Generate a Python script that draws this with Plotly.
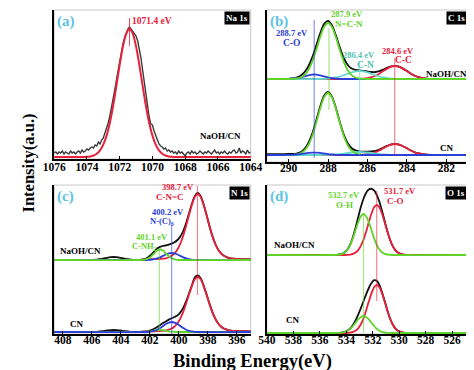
import numpy as np
import plotly.graph_objects as go

SERIF = "Liberation Serif, Times New Roman, serif"
W, H = 474, 370

# ---------------- colours ----------------
C_ENV = "#111111"
C_RAW = "#3a3a3a"
C_RED = "#e8203a"
C_GRN = "#5fd42b"
C_BLU = "#2a3fd8"
C_CYN = "#62d9cc"
C_LET = "#5bc4e6"
C_FRAME = "#c8c8c8"

# ---------------- (a) Na 1s ----------------
A_RANGE = [1076, 1064]
A_RAW = [6, 7, 5, 7, 6, 8, 5, 7, 6, 5,
         8, 6, 7, 5, 7, 8, 6, 9, 7, 8,
         10, 9, 11, 12, 11, 14, 13, 17, 15, 19,
         21, 26, 29, 36, 43, 51, 60, 69, 79, 89,
         99, 107, 115, 121, 126, 130, 132, 130, 128, 126,
         123, 118, 111, 101, 89, 76, 63, 51, 42, 35,
         34, 28, 23, 18, 15, 13, 12, 10, 11, 8,
         9, 7, 8, 6, 7, 5, 8, 6, 7, 5,
         3, 6, 7, 5, 8, 6, 7, 5, 6, 8,
         6, 5, 7, 6, 8, 6, 5, 7, 9, 6,
         7, 5, 7, 6, 8, 6, 5, 7, 6, 8,
         9, 6, 7, 11, 6, 8, 7, 5, 9, 6,
         7]
A_RAW_E = np.linspace(1076.0, 1064.0, len(A_RAW))
A_FIT = [(1076.2, 2), (1074.2, 2), (1074.0, 2.2), (1073.8, 2.6), (1073.6, 3.5), (1073.4, 5.3),
         (1073.2, 8.7), (1073.0, 14.4), (1072.8, 23.4), (1072.6, 36.3), (1072.4, 53.3),
         (1072.2, 73.3), (1072.0, 94.2), (1071.8, 112.6), (1071.6, 125.4), (1071.4, 130),
         (1071.2, 125.4), (1071.0, 112.6), (1070.8, 94.2), (1070.6, 73.3), (1070.4, 53.3),
         (1070.2, 36.3), (1070.0, 23.4), (1069.8, 14.4), (1069.6, 8.7), (1069.4, 5.3),
         (1069.2, 3.5), (1069.0, 2.6), (1068.8, 2.2), (1068.6, 2), (1063.8, 2)]
A_PEAK = 1071.4

# ---------------- (b) C 1s ----------------
B_RANGE = [291.1, 280.9]
B_OFF_TOP, B_OFF_BOT = 83, 7
B1_ENV = [(291.2, 0), (290.2, 0), (290.0, 0.2), (289.8, 0.5), (289.6, 1.4), (289.4, 3.2), (289.2, 6.6),
          (289.0, 12.5), (288.8, 21.6), (288.6, 33.2), (288.4, 45.4), (288.2, 54.9), (288.0, 58.1),
          (287.8, 53.7), (287.6, 43.6), (287.4, 31.5), (287.2, 21.0), (287.0, 14.0), (286.8, 10.5),
          (286.6, 9.1), (286.4, 8.65), (286.2, 8.1), (286.0, 7.5), (285.8, 7.0), (285.6, 7.0),
          (285.4, 7.8), (285.2, 9.4), (285.0, 11.2), (284.8, 12.7), (284.6, 13.2), (284.4, 12.3),
          (284.2, 10.4), (284.0, 7.9), (283.8, 5.3), (283.6, 3.2), (283.4, 1.8), (283.2, 0.9),
          (283.0, 0.4), (282.8, 0.15), (282.4, 0), (280.8, 0)]
B1_GRN = [(291.2, 0), (290.0, 0), (289.8, 0.1), (289.6, 0.5), (289.4, 1.5), (289.2, 3.9), (289.0, 8.8),
          (288.8, 17.2), (288.6, 28.8), (288.4, 41.7), (288.2, 52.0), (288.0, 56), (287.8, 52.0),
          (287.6, 41.7), (287.4, 28.8), (287.2, 17.2), (287.0, 8.8), (286.8, 3.9), (286.6, 1.5),
          (286.4, 0.5), (286.2, 0.1), (286.0, 0), (280.8, 0)]
B1_BLU = [(291.2, 0), (290.2, 0), (290.0, 0.2), (289.8, 0.4), (289.6, 0.9), (289.4, 1.7), (289.2, 2.7),
          (289.0, 3.7), (288.8, 4.4), (288.6, 4.4), (288.4, 3.7), (288.2, 2.7), (288.0, 1.7),
          (287.8, 0.9), (287.6, 0.4), (287.4, 0.2), (287.2, 0), (280.8, 0)]
B1_CYN = [(291.2, 0), (288.4, 0), (288.2, 0.2), (288.0, 0.4), (287.8, 0.8), (287.6, 1.5), (287.4, 2.5),
          (287.2, 3.8), (287.0, 5.2), (286.8, 6.6), (286.6, 7.6), (286.4, 8), (286.2, 7.6), (286.0, 6.6),
          (285.8, 5.2), (285.6, 3.8), (285.4, 2.5), (285.2, 1.5), (285.0, 0.8), (284.8, 0.4),
          (284.6, 0.2), (284.4, 0), (280.8, 0)]
B1_RED = [(291.2, 0), (286.6, 0), (286.4, 0.15), (286.2, 0.4), (286.0, 0.9), (285.8, 1.8), (285.6, 3.2),
          (285.4, 5.3), (285.2, 7.9), (285.0, 10.4), (284.8, 12.3), (284.6, 13), (284.4, 12.3),
          (284.2, 10.4), (284.0, 7.9), (283.8, 5.3), (283.6, 3.2), (283.4, 1.8), (283.2, 0.9),
          (283.0, 0.4), (282.8, 0.15), (282.6, 0), (280.8, 0)]
B2_ENV = [(291.2, 0.8), (290.2, 0.9), (290.0, 1.0), (289.8, 1.1), (289.6, 1.4), (289.4, 2.6), (289.2, 5.8),
          (289.0, 11.8), (288.8, 21.4), (288.6, 34.3), (288.4, 48.3), (288.2, 59.2), (288.0, 63.1),
          (287.8, 58.4), (287.6, 47.0), (287.4, 32.9), (287.2, 20.4), (287.0, 11.7), (286.8, 6.8),
          (286.6, 4.6), (286.4, 3.7), (286.2, 3.3), (286.0, 3.3), (285.8, 3.5), (285.6, 4.1),
          (285.4, 5.4), (285.2, 7.3), (285.0, 9.1), (284.8, 10.6), (284.6, 11.1), (284.4, 10.4),
          (284.2, 8.8), (284.0, 6.7), (283.8, 4.5), (283.6, 2.7), (283.4, 1.5), (283.2, 0.8),
          (283.0, 0.3), (282.8, 0.1), (282.4, 0), (280.8, 0)]
B2_GRN = [(291.2, 0), (290.0, 0), (289.8, 0.1), (289.6, 0.6), (289.4, 1.7), (289.2, 4.3), (289.0, 9.7),
          (288.8, 19.0), (288.6, 31.9), (288.4, 46.2), (288.2, 57.6), (288.0, 62), (287.8, 57.6),
          (287.6, 46.2), (287.4, 31.9), (287.2, 19.0), (287.0, 9.7), (286.8, 4.3), (286.6, 1.7),
          (286.4, 0.6), (286.2, 0.1), (286.0, 0), (280.8, 0)]
B2_BLU = [(291.2, 0), (290.2, 0), (290.0, 0.1), (289.8, 0.2), (289.6, 0.5), (289.4, 0.9), (289.2, 1.5),
          (289.0, 2.1), (288.8, 2.4), (288.6, 2.4), (288.4, 2.1), (288.2, 1.5), (288.0, 0.9),
          (287.8, 0.5), (287.6, 0.2), (287.4, 0.1), (287.2, 0), (280.8, 0)]
B2_CYN = [(291.2, 0), (288.4, 0), (288.2, 0.1), (288.0, 0.15), (287.8, 0.3), (287.6, 0.6), (287.4, 0.9),
          (287.2, 1.4), (287.0, 2.0), (286.8, 2.5), (286.6, 2.9), (286.4, 3), (286.2, 2.9), (286.0, 2.5),
          (285.8, 2.0), (285.6, 1.4), (285.4, 0.9), (285.2, 0.6), (285.0, 0.3), (284.8, 0.15),
          (284.6, 0.1), (284.4, 0), (280.8, 0)]
B2_RED = [(291.2, 0), (286.6, 0), (286.4, 0.1), (286.2, 0.3), (286.0, 0.8), (285.8, 1.5), (285.6, 2.7),
          (285.4, 4.5), (285.2, 6.7), (285.0, 8.8), (284.8, 10.4), (284.6, 11), (284.4, 10.4),
          (284.2, 8.8), (284.0, 6.7), (283.8, 4.5), (283.6, 2.7), (283.4, 1.5), (283.2, 0.8),
          (283.0, 0.3), (282.8, 0.1), (282.6, 0), (280.8, 0)]
B_LINES = [(288.7, C_BLU, 4, 142), (287.95, C_GRN, 52, 134), (286.4, C_CYN, 7, 101), (284.62, C_RED, 7, 104)]

# ---------------- (c) N 1s ----------------
C_RANGE = [408.6, 395.05]
C_OFF_TOP, C_OFF_BOT = 74, 2
C1_ENV = [(408.8, 0), (406.5, 0), (405.9, 0.1), (405.7, 0.3), (405.5, 0.8), (405.3, 1.2), (405.1, 1.8),
          (404.9, 2.4), (404.7, 2.8), (404.5, 3.0), (404.3, 2.8), (404.1, 2.4), (403.9, 1.8),
          (403.7, 1.2), (403.5, 0.8), (403.3, 0.3), (403.1, 0.1), (402.9, 0.1), (402.7, 0.2),
          (402.5, 0.5), (402.3, 1.2), (402.1, 3.0), (401.9, 5.6), (401.7, 8.6), (401.5, 11.5),
          (401.3, 13.2), (401.1, 14.0), (400.9, 14.6), (400.7, 15.4), (400.5, 16.3), (400.3, 17.8),
          (400.1, 20.0), (399.9, 23.5), (399.7, 29.0), (399.5, 37.0), (399.3, 46.8), (399.1, 56.3),
          (398.9, 64.0), (398.7, 67), (398.5, 63.8), (398.3, 55.8), (398.1, 45.4), (397.9, 34.3),
          (397.7, 24.4), (397.5, 16.5), (397.3, 10.6), (397.1, 6.7), (396.9, 4.3), (396.7, 2.9),
          (396.5, 1.8), (396.3, 1.4), (396.1, 1.2), (395.9, 1.0), (395.7, 0.9), (394.8, 0.5)]
C1_RED = [(408.8, 0), (402.9, 0), (402.5, 0.3), (402.3, 0.5), (402.1, 0.6), (401.9, 0.8), (401.7, 0.9),
          (401.5, 1.0), (401.3, 1.2), (401.1, 1.4), (400.9, 1.7), (400.7, 2.8), (400.5, 4.2),
          (400.3, 6.6), (400.1, 10.5), (399.9, 16.4), (399.7, 24.3), (399.5, 34.2), (399.3, 45.2),
          (399.1, 55.5), (398.9, 63.2), (398.7, 66), (398.5, 63.2), (398.3, 55.5), (398.1, 45.2),
          (397.9, 34.2), (397.7, 24.3), (397.5, 16.4), (397.3, 10.5), (397.1, 6.6), (396.9, 4.2),
          (396.7, 2.8), (396.5, 1.7), (396.3, 1.4), (396.1, 1.2), (395.9, 1.0), (395.7, 0.9), (394.8, 0.5)]
C1_BLU = [(408.8, 0), (402.3, 0), (402.1, 0.15), (401.9, 0.4), (401.7, 0.8), (401.5, 1.6), (401.3, 2.7),
          (401.1, 4.1), (400.9, 5.5), (400.7, 6.6), (400.5, 7), (400.3, 6.6), (400.1, 5.5), (399.9, 4.1),
          (399.7, 2.7), (399.5, 1.6), (399.3, 0.8), (399.1, 0.4), (398.9, 0.15), (398.7, 0), (394.8, 0)]
C1_GRN = [(408.8, 0), (402.7, 0), (402.5, 0.2), (402.3, 0.6), (402.1, 1.7), (401.9, 3.8), (401.7, 6.7),
          (401.5, 9.4), (401.3, 10.5), (401.1, 9.4), (400.9, 6.7), (400.7, 3.8), (400.5, 1.7),
          (400.3, 0.6), (400.1, 0.2), (399.9, 0), (394.8, 0)]
C2_ENV = [(408.8, 0), (406.5, 0), (405.9, 0.1), (405.7, 0.2), (405.5, 0.5), (405.3, 0.8), (405.1, 1.2),
          (404.9, 1.6), (404.7, 1.9), (404.5, 2.0), (404.3, 1.9), (404.1, 1.6), (403.9, 1.2),
          (403.7, 0.8), (403.5, 0.5), (403.3, 0.2), (403.1, 0.1), (402.7, 0.1), (402.5, 0.3),
          (402.3, 0.5), (402.1, 1.0), (401.9, 2.0), (401.7, 3.2), (401.5, 4.9), (401.3, 6.9),
          (401.1, 8.9), (400.9, 10.6), (400.7, 12.4), (400.5, 13.8), (400.3, 15.0), (400.1, 16.6),
          (399.9, 19.6), (399.7, 24.1), (399.5, 30.8), (399.3, 38.8), (399.1, 46.8), (398.9, 54.6),
          (398.7, 56.5), (398.5, 53.8), (398.3, 46.6), (398.1, 37.9), (397.9, 28.6), (397.7, 20.2),
          (397.5, 13.7), (397.3, 8.7), (397.1, 5.5), (396.9, 3.5), (396.7, 2.3), (396.5, 1.4),
          (396.3, 1.2), (396.1, 1.0), (395.9, 0.8), (395.7, 0.75), (394.8, 0.4)]
C2_RED = [(408.8, 0), (402.9, 0), (402.5, 0.25), (402.3, 0.4), (402.1, 0.5), (401.9, 0.7), (401.7, 0.75),
          (401.5, 0.8), (401.3, 1.0), (401.1, 1.2), (400.9, 1.4), (400.7, 2.3), (400.5, 3.5),
          (400.3, 5.5), (400.1, 8.7), (399.9, 13.7), (399.7, 20.2), (399.5, 28.5), (399.3, 37.7),
          (399.1, 46.2), (398.9, 52.7), (398.7, 55), (398.5, 52.7), (398.3, 46.2), (398.1, 37.7),
          (397.9, 28.5), (397.7, 20.2), (397.5, 13.7), (397.3, 8.7), (397.1, 5.5), (396.9, 3.5),
          (396.7, 2.3), (396.5, 1.4), (396.3, 1.2), (396.1, 1.0), (395.9, 0.8), (395.7, 0.75), (394.8, 0.4)]
C2_BLU = [(408.8, 0), (402.3, 0), (402.1, 0.2), (401.9, 0.6), (401.7, 1.1), (401.5, 2.3), (401.3, 3.9),
          (401.1, 5.9), (400.9, 7.9), (400.7, 9.4), (400.5, 10), (400.3, 9.4), (400.1, 7.9), (399.9, 5.9),
          (399.7, 3.9), (399.5, 2.3), (399.3, 1.1), (399.1, 0.6), (398.9, 0.2), (398.7, 0), (394.8, 0)]
C2_GRN = [(408.8, 0), (402.3, 0), (402.1, 0.3), (401.9, 0.7), (401.7, 1.3), (401.5, 1.8), (401.3, 2.0),
          (401.1, 1.8), (400.9, 1.3), (400.7, 0.7), (400.5, 0.3), (400.3, 0.1), (400.1, 0), (394.8, 0)]
C_LINES = [(398.72, C_RED, 39, 148), (400.5, C_BLU, 0, 111), (401.35, C_GRN, 3, 84)]

# ---------------- (d) O 1s ----------------
D_RANGE = [540, 524.8]
D_OFF_TOP, D_OFF_BOT = 79, 1
D1_ENV = [(540.2, 0), (534.9, 0), (534.7, 0.2), (534.5, 0.5), (534.3, 1.2), (534.1, 2.7), (533.9, 5.65),
          (533.7, 10.6), (533.5, 18.0), (533.3, 27.3), (533.1, 37.7), (532.9, 47.9), (532.7, 56.3),
          (532.5, 62.3), (532.3, 65.5), (532.1, 66.2), (531.9, 64.6), (531.7, 60.2), (531.5, 53.2),
          (531.3, 44.0), (531.1, 33.9), (530.9, 24.0), (530.7, 15.5), (530.5, 9.1), (530.3, 4.9),
          (530.1, 2.4), (529.9, 1.1), (529.7, 0.4), (529.5, 0.15), (529.3, 0), (524.6, 0)]
D1_RED = [(540.2, 0), (534.1, 0), (533.9, 0.15), (533.7, 0.4), (533.5, 1.1), (533.3, 2.4), (533.1, 4.9),
          (532.9, 9.1), (532.7, 15.3), (532.5, 23.5), (532.3, 32.7), (532.1, 41.3), (531.9, 47.7),
          (531.7, 50), (531.5, 47.7), (531.3, 41.3), (531.1, 32.7), (530.9, 23.5), (530.7, 15.3),
          (530.5, 9.1), (530.3, 4.9), (530.1, 2.4), (529.9, 1.1), (529.7, 0.4), (529.5, 0.15),
          (529.3, 0), (524.6, 0)]
D1_GRN = [(540.2, 0), (534.9, 0), (534.7, 0.2), (534.5, 0.5), (534.3, 1.2), (534.1, 2.7), (533.9, 5.5),
          (533.7, 10.2), (533.5, 16.9), (533.3, 24.9), (533.1, 32.8), (532.9, 38.8), (532.7, 41),
          (532.5, 38.8), (532.3, 32.8), (532.1, 24.9), (531.9, 16.9), (531.7, 10.2), (531.5, 5.5),
          (531.3, 2.7), (531.1, 1.2), (530.9, 0.5), (530.7, 0.2), (530.5, 0), (524.6, 0)]
D2_ENV = [(540.2, 0), (534.9, 0), (534.7, 0.1), (534.5, 0.2), (534.3, 0.5), (534.1, 1.1), (533.9, 2.45),
          (533.7, 4.6), (533.5, 8.1), (533.3, 12.6), (533.1, 18.3), (532.9, 24.8), (532.7, 31.7),
          (532.5, 38.7), (532.3, 45.0), (532.1, 49.9), (531.9, 52.8), (531.7, 52.2), (531.5, 48.1),
          (531.3, 40.7), (531.1, 31.9), (530.9, 22.8), (530.7, 14.8), (530.5, 8.7), (530.3, 4.7),
          (530.1, 2.3), (529.9, 1.1), (529.7, 0.4), (529.5, 0.15), (529.3, 0), (524.6, 0)]
D2_RED = [(540.2, 0), (534.1, 0), (533.9, 0.15), (533.7, 0.4), (533.5, 1.1), (533.3, 2.3), (533.1, 4.7),
          (532.9, 8.7), (532.7, 14.7), (532.5, 22.6), (532.3, 31.4), (532.1, 39.6), (531.9, 45.8),
          (531.7, 48), (531.5, 45.8), (531.3, 39.6), (531.1, 31.4), (530.9, 22.6), (530.7, 14.7),
          (530.5, 8.7), (530.3, 4.7), (530.1, 2.3), (529.9, 1.1), (529.7, 0.4), (529.5, 0.15),
          (529.3, 0), (524.6, 0)]
D2_GRN = [(540.2, 0), (534.9, 0), (534.7, 0.1), (534.5, 0.2), (534.3, 0.5), (534.1, 1.1), (533.9, 2.3),
          (533.7, 4.2), (533.5, 7.0), (533.3, 10.3), (533.1, 13.6), (532.9, 16.1), (532.7, 17),
          (532.5, 16.1), (532.3, 13.6), (532.1, 10.3), (531.9, 7.0), (531.7, 4.2), (531.5, 2.3),
          (531.3, 1.1), (531.1, 0.5), (530.9, 0.2), (530.7, 0.1), (530.5, 0), (524.6, 0)]
D_LINES = [(532.7, C_GRN, 1, 121), (531.7, C_RED, 33, 143)]

# ---------------- layout geometry (pixels) ----------------
PANELS = {
    "a": dict(x=(36, 243), y=(2, 151), rng=A_RANGE, ticks=[1076, 1074, 1072, 1070, 1068, 1066, 1064], so=-4),
    "b": dict(x=(260, 472), y=(2, 154), rng=B_RANGE, ticks=[290, 288, 286, 284, 282], so=-6),
    "c": dict(x=(36, 243), y=(177, 326), rng=C_RANGE, ticks=[408, 406, 404, 402, 400, 398, 396], so=-6),
    "d": dict(x=(260, 472), y=(177, 326), rng=D_RANGE, ticks=[540, 538, 536, 534, 532, 530, 528, 526], so=-6),
}
AX = {"a": ("x", "y"), "b": ("x2", "y2"), "c": ("x3", "y3"), "d": ("x4", "y4")}

fig = go.Figure()


def curve(panel, pairs, offset, color, width=1.8, shape="spline"):
    xa, ya = AX[panel]
    fig.add_trace(go.Scatter(
        x=[p[0] for p in pairs], y=[p[1] + offset for p in pairs], mode="lines",
        line=dict(color=color, width=width, shape=shape, smoothing=0.8),
        xaxis=xa, yaxis=ya, hoverinfo="skip", showlegend=False))


# (a)
fig.add_trace(go.Scatter(x=A_RAW_E, y=A_RAW, mode="lines", line=dict(color=C_RAW, width=1.4),
                         xaxis="x", yaxis="y", hoverinfo="skip", showlegend=False))
curve("a", A_FIT, 0, C_RED, 2)
# (b)
for pairs, col in [(B1_ENV, C_ENV), (B1_RED, C_RED), (B1_CYN, C_CYN), (B1_BLU, C_BLU), (B1_GRN, C_GRN)]:
    curve("b", pairs, B_OFF_TOP, col)
for pairs, col in [(B2_ENV, C_ENV), (B2_RED, C_RED), (B2_CYN, C_CYN), (B2_GRN, C_GRN), (B2_BLU, C_BLU)]:
    curve("b", pairs, B_OFF_BOT, col)
# (c)
for pairs, col in [(C1_ENV, C_ENV), (C1_RED, C_RED), (C1_BLU, C_BLU), (C1_GRN, C_GRN)]:
    curve("c", pairs, C_OFF_TOP, col)
for pairs, col in [(C2_ENV, C_ENV), (C2_RED, C_RED), (C2_GRN, C_GRN), (C2_BLU, C_BLU)]:
    curve("c", pairs, C_OFF_BOT, col)
# (d)
for pairs, col in [(D1_ENV, C_ENV), (D1_RED, C_RED), (D1_GRN, C_GRN)]:
    curve("d", pairs, D_OFF_TOP, col)
for pairs, col in [(D2_ENV, C_ENV), (D2_RED, C_RED), (D2_GRN, C_GRN)]:
    curve("d", pairs, D_OFF_BOT, col)

layout = dict(width=W, height=H, margin=dict(l=0, r=0, t=0, b=0),
              paper_bgcolor="white", plot_bgcolor="white", showlegend=False)
shapes, annotations = [], []
tickfont = dict(family=SERIF, size=11.5, color="black", weight="bold")
for key, p in PANELS.items():
    xa, ya = AX[key]
    xn = "xaxis" + xa[1:]
    yn = "yaxis" + ya[1:]
    x0, x1 = p["x"]
    y0, y1 = p["y"]
    layout[xn] = dict(domain=[x0 / W, x1 / W], range=p["rng"], anchor=ya, showline=True,
                      linecolor="black", linewidth=1.6, ticks="inside", ticklen=3, tickwidth=1,
                      tickcolor="black", tickvals=p["ticks"], tickfont=tickfont,
                      ticklabelstandoff=p["so"],
                      showgrid=False, zeroline=False, fixedrange=True)
    layout[yn] = dict(domain=[1 - y1 / H, 1 - y0 / H], range=[0, y1 - y0], anchor=xa, showline=True,
                      linecolor="black", linewidth=1.6, ticks="", showticklabels=False,
                      showgrid=False, zeroline=False, fixedrange=True)
    shapes.append(dict(type="rect", xref=xa + " domain", yref=ya + " domain", x0=0, x1=1, y0=0, y1=1,
                       line=dict(color=C_FRAME, width=1), layer="below"))

# vertical marker lines
for key, lines in [("b", B_LINES), ("c", C_LINES), ("d", D_LINES)]:
    xa, ya = AX[key]
    for e, col, h0, h1 in lines:
        shapes.append(dict(type="line", xref=xa, yref=ya, x0=e, x1=e, y0=h0, y1=h1,
                           line=dict(color=col, width=1.2), opacity=0.55, layer="above"))
shapes.append(dict(type="line", xref="x", yref="y", x0=A_PEAK, x1=A_PEAK, y0=113, y1=141,
                   line=dict(color=C_RED, width=1), opacity=0.8))


def txt(panel, x, y, text, color, size=8.5, anchor="center"):
    xa, ya = AX[panel]
    annotations.append(dict(xref=xa, yref=ya, x=x, y=y, text=text, showarrow=False,
                            xanchor=anchor, yanchor="middle", borderpad=0,
                            font=dict(family=SERIF, size=size, color=color, weight="bold")))


txt("a", 1071.3, 138, "1071.4 eV", C_RED, 9.5, "left")
txt("a", 1065.83, 23, "NaOH/CN", "black", 9)
txt("b", 289.8, 129, "288.7 eV", C_BLU)
txt("b", 289.85, 119, "C-O", C_BLU, 9.5)
txt("b", 287.06, 148, "287.9 eV", C_GRN)
txt("b", 286.92, 138, "N=C-N", C_GRN, 9)
txt("b", 286.44, 107, "286.4 eV", "#52c2ae")
txt("b", 286.1, 97, "C-N", "#52c2ae", 9.5)
txt("b", 284.47, 111, "284.6 eV", C_RED)
txt("b", 284.18, 102, "C-C", C_RED, 9.5)
txt("b", 282.01, 88, "NaOH/CN", "black", 9)
txt("b", 281.96, 14, "CN", "black", 9)
txt("c", 400.09, 147, "398.7 eV", C_RED)
txt("c", 400.6, 137, "C-N=C", C_RED, 9)
txt("c", 400.75, 122, "400.2 eV", C_BLU)
txt("c", 401.14, 113, "N-(C)<sub>3</sub>", C_BLU, 8.5)
txt("c", 401.86, 97, "401.1 eV", C_GRN)
txt("c", 402.38, 88, "C-NH<sub>2</sub>", C_GRN, 8.5)
txt("c", 406.77, 83, "NaOH/CN", "black", 9)
txt("c", 407.03, 10, "CN", "black", 9)
txt("d", 534.19, 139, "532.7 eV", C_GRN)
txt("d", 534.12, 129, "O-H", C_GRN, 9)
txt("d", 529.96, 143, "531.7 eV", C_RED)
txt("d", 530.25, 133, "C-O", C_RED, 9)
txt("d", 537.92, 89, "NaOH/CN", "black", 9)
txt("d", 538.06, 14, "CN", "black", 9)

# panel letters and element boxes
for key, letter, box in [("a", "(a)", "Na 1s"), ("b", "(b)", "C 1s"), ("c", "(c)", "N 1s"), ("d", "(d)", "O 1s")]:
    xa, ya = AX[key]
    annotations.append(dict(xref=xa + " domain", yref=ya + " domain", x=0.005, y=0.995, text=letter,
                            showarrow=False, xanchor="left", yanchor="top",
                            font=dict(family=SERIF, size=15, color=C_LET, weight="bold")))
    annotations.append(dict(xref=xa + " domain", yref=ya + " domain", x=0.995, y=0.995, text=box,
                            showarrow=False, xanchor="right", yanchor="top", bgcolor="black",
                            borderpad=1,
                            font=dict(family=SERIF, size=9, color="white", weight="bold")))

annotations.append(dict(xref="paper", yref="paper", x=10 / W, y=1 - 155 / H, text="Intensity(a.u.)",
                        textangle=-90, showarrow=False, xanchor="center", yanchor="middle",
                        font=dict(family=SERIF, size=16.5, color="black", weight="bold")))
annotations.append(dict(xref="paper", yref="paper", x=245 / W, y=1 - 353 / H, text="Binding Energy(eV)",
                        showarrow=False, xanchor="center", yanchor="middle",
                        font=dict(family=SERIF, size=18.5, color="black", weight="bold")))

layout["shapes"] = shapes
layout["annotations"] = annotations
fig.update_layout(**layout)
fig.write_html("out.html")
